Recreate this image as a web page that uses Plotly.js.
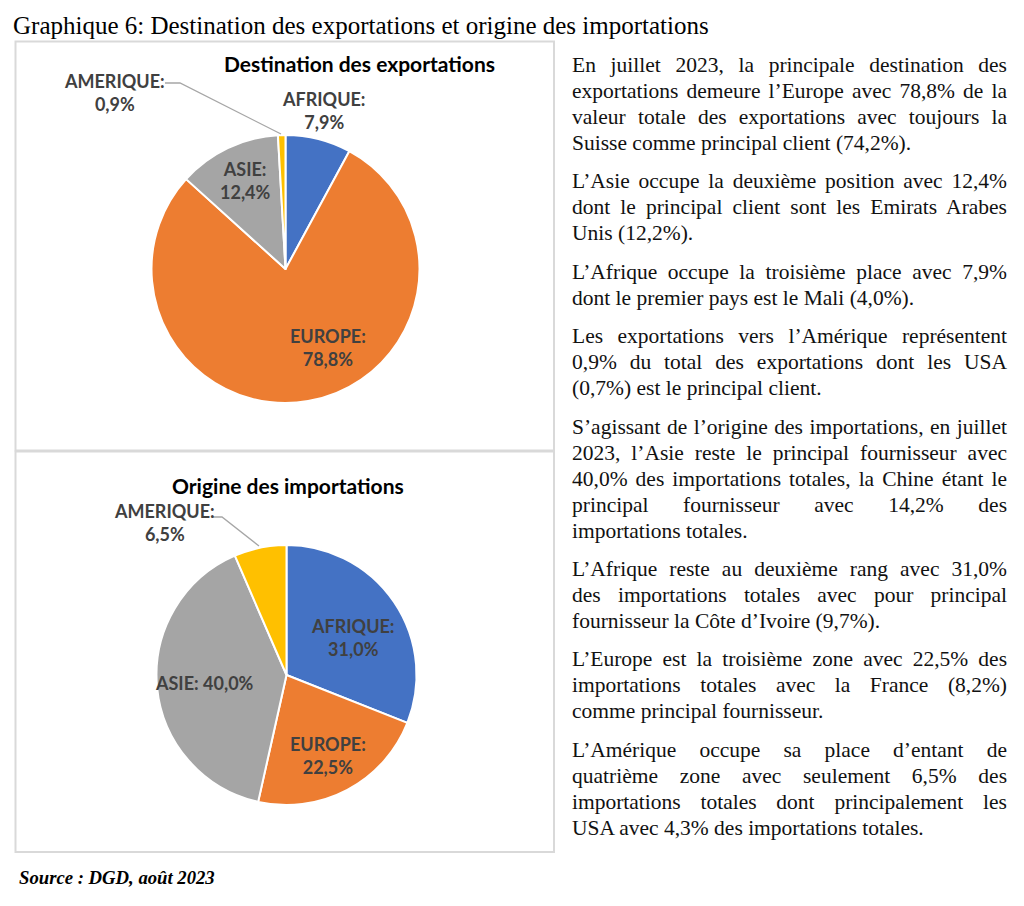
<!DOCTYPE html>
<html>
<head>
<meta charset="utf-8">
<script src="https://cdn.plot.ly/plotly-3.0.1.min.js"></script>
<style>
  html, body { margin:0; padding:0; background:#fff; }
  #chart { position:absolute; left:0; top:0; width:1024px; height:906px; }
  #text { position:absolute; left:572px; top:52px; width:435px;
          font-family:"Liberation Serif", "Times New Roman", serif; font-size:21.5px;
          line-height:26px; color:#111; }
  #text p { margin:0 0 12.4px 0; }
  #text span { display:block; white-space:nowrap; text-align:justify; text-align-last:justify; }
  #text span.last { text-align:left; text-align-last:left; }
</style>
</head>
<body>
<div id="chart"></div>
<div id="text"></div>
<script>
// ---------- data ----------
const regions = ['AFRIQUE', 'EUROPE', 'ASIE', 'AMERIQUE'];
const exportShares = [7.9, 78.8, 12.4, 0.9];
const importShares = [31.0, 22.5, 40.0, 6.5];
const sliceColors = ['#4472C4', '#ED7D31', '#A5A5A5', '#FFC000'];

const pageTitle = 'Graphique 6: Destination des exportations et origine des importations';
const exportTitle = 'Destination des exportations';
const importTitle = 'Origine des importations';
const sourceText = 'Source : DGD, août 2023';

const paragraphs = [
  ['En juillet 2023, la principale destination des',
   'exportations demeure l’Europe avec 78,8% de la',
   'valeur totale des exportations avec toujours la',
   'Suisse comme principal client (74,2%).'],
  ['L’Asie occupe la deuxième position avec 12,4%',
   'dont le principal client sont les Emirats Arabes',
   'Unis (12,2%).'],
  ['L’Afrique occupe la troisième place avec 7,9%',
   'dont le premier pays est le Mali (4,0%).'],
  ['Les exportations vers l’Amérique représentent',
   '0,9% du total des exportations dont les USA',
   '(0,7%) est le principal client.'],
  ['S’agissant de l’origine des importations, en juillet',
   '2023, l’Asie reste le principal fournisseur avec',
   '40,0% des importations totales, la Chine étant le',
   'principal fournisseur avec 14,2% des',
   'importations totales.'],
  ['L’Afrique reste au deuxième rang avec 31,0%',
   'des importations totales avec pour principal',
   'fournisseur la Côte d’Ivoire (9,7%).'],
  ['L’Europe est la troisième zone avec 22,5% des',
   'importations totales avec la France (8,2%)',
   'comme principal fournisseur.'],
  ['L’Amérique occupe sa place d’entant de',
   'quatrième zone avec seulement 6,5% des',
   'importations totales dont principalement les',
   'USA avec 4,3% des importations totales.']
];

// ---------- layout helpers (pixel -> paper) ----------
const W = 1024, H = 906;
const px = x => x / W;
const py = y => 1 - y / H;
const fmt = v => v.toFixed(1).replace('.', ',') + '%';

// pie geometry (pixels)
const pie1 = {cx: 285.5, cy: 269, r: 134};
const pie2 = {cx: 286.5, cy: 675, r: 130};
const dom = p => ({x: [px(p.cx - p.r), px(p.cx + p.r)], y: [py(p.cy + p.r), py(p.cy - p.r)]});

// label placement (pixels), per region index
const exportLabelPos = [[324, 111], [328, 347.5], [245, 180], [114, 93]];
const importLabelPos = [[353, 637], [328, 755], [204, 683], [164, 522]];
const importLabelSep = ['<br>', '<br>', ' ', '<br>'];

const labelFont = {family: 'Lato, "Open Sans", sans-serif', size: 18, color: '#404040', weight: 'bold'};

function pieTrace(values, p) {
  return {
    type: 'pie', values: values, labels: regions, sort: false,
    direction: 'clockwise', rotation: 0,
    marker: {colors: sliceColors, line: {color: '#ffffff', width: 2}},
    textinfo: 'none', hoverinfo: 'skip', showlegend: false,
    domain: dom(p)
  };
}

const annotations = [];
function addLabels(values, pos, seps) {
  values.forEach((v, i) => {
    annotations.push({
      xref: 'paper', yref: 'paper', x: px(pos[i][0]), y: py(pos[i][1]),
      xanchor: 'center', yanchor: 'middle', showarrow: false,
      text: regions[i] + ':' + (seps ? seps[i] : '<br>') + fmt(v),
      font: labelFont
    });
  });
}
addLabels(exportShares, exportLabelPos, null);
addLabels(importShares, importLabelPos, importLabelSep);

annotations.push({
  xref: 'paper', yref: 'paper', x: px(11), y: py(25), xanchor: 'left', yanchor: 'middle',
  showarrow: false, text: pageTitle,
  font: {family: '"Liberation Serif", serif', size: 25, color: '#000'}
});
annotations.push({
  xref: 'paper', yref: 'paper', x: px(359.5), y: py(63.5), xanchor: 'center', yanchor: 'middle',
  showarrow: false, text: exportTitle,
  font: {family: 'Lato, sans-serif', size: 21, color: '#000', weight: 'bold'}
});
annotations.push({
  xref: 'paper', yref: 'paper', x: px(288), y: py(486), xanchor: 'center', yanchor: 'middle',
  showarrow: false, text: importTitle,
  font: {family: 'Lato, sans-serif', size: 21, color: '#000', weight: 'bold'}
});
annotations.push({
  xref: 'paper', yref: 'paper', x: px(17), y: py(877), xanchor: 'left', yanchor: 'middle',
  showarrow: false, text: '<b><i>' + sourceText + '</i></b>',
  font: {family: '"Liberation Serif", serif', size: 18.7, color: '#000'}
});

function pathPx(pts) {
  return pts.map((p, i) => (i ? 'L' : 'M') + px(p[0]) + ',' + py(p[1])).join(' ');
}
const shapes = [
  {type: 'rect', xref: 'paper', yref: 'paper', x0: px(15.5), x1: px(554), y0: py(41.5), y1: py(450.5),
   line: {color: '#d9d9d9', width: 2}, fillcolor: 'rgba(0,0,0,0)', layer: 'below'},
  {type: 'rect', xref: 'paper', yref: 'paper', x0: px(15.5), x1: px(554), y0: py(451.5), y1: py(852),
   line: {color: '#d9d9d9', width: 2}, fillcolor: 'rgba(0,0,0,0)', layer: 'below'},
  {type: 'path', xref: 'paper', yref: 'paper', path: pathPx([[165, 83], [180, 83], [281, 134]]),
   line: {color: '#a6a6a6', width: 1.3}},
  {type: 'path', xref: 'paper', yref: 'paper', path: pathPx([[213, 517], [222, 517], [259, 546]]),
   line: {color: '#a6a6a6', width: 1.3}}
];

const layout = {
  width: W, height: H, margin: {l: 0, r: 0, t: 0, b: 0},
  paper_bgcolor: '#ffffff', plot_bgcolor: '#ffffff', showlegend: false,
  annotations: annotations, shapes: shapes
};

Plotly.newPlot('chart', [pieTrace(exportShares, pie1), pieTrace(importShares, pie2)], layout,
  {staticPlot: true, displayModeBar: false});

// paragraphs
const box = document.getElementById('text');
paragraphs.forEach(lines => {
  const p = document.createElement('p');
  lines.forEach((ln, i) => {
    const s = document.createElement('span');
    s.textContent = ln;
    if (i === lines.length - 1) s.className = 'last';
    p.appendChild(s);
  });
  box.appendChild(p);
});
</script>
</body>
</html>
